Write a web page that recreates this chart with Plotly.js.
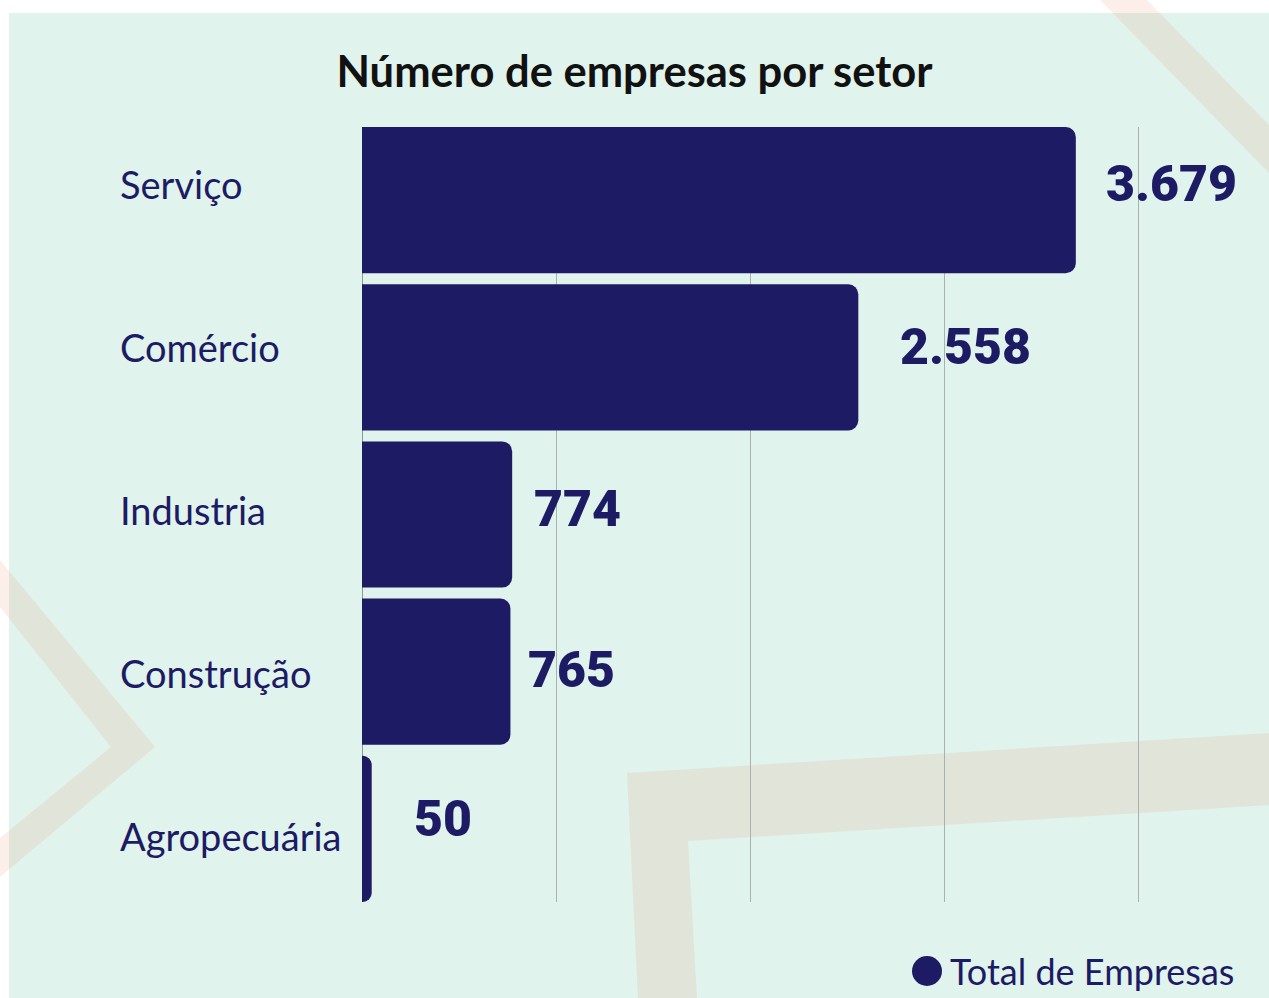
<!DOCTYPE html>
<html>
<head>
<meta charset="utf-8">
<script src="https://cdn.plot.ly/plotly-3.0.1.min.js"></script>
<style>html,body{margin:0;padding:0;background:#ffffff;}#chart{width:1269px;height:998px;}</style>
</head>
<body>
<div id="chart"></div>
<script>
const categories = ["Serviço", "Comércio", "Industria", "Construção", "Agropecuária"];
const values = [3679, 2558, 774, 765, 50];
const titleText = "Número de empresas por setor";
const legendText = "Total de Empresas";

const NAVY = "#1c1b64";
const MINT = "#e0f3ed";
const W = 1269, H = 998;
const M = {l: 362, r: 30, t: 127, b: 96};
const PW = W - M.l - M.r, PH = H - M.t - M.b;
const px = x => (x - M.l) / PW;          // pixel -> paper x
const py = y => (H - M.b - y) / PH;      // pixel -> paper y
const GAP = 0.07;

function fmt(v) {
  return String(v).replace(/\B(?=(\d{3})+(?!\d))/g, ".");
}
function pathFrom(points) {
  return points.map((p, i) => (i ? "L" : "M") + px(p[0]).toFixed(5) + "," + py(p[1]).toFixed(5)).join(" ") + " Z";
}

const deco = "rgba(235,135,85,0.13)";

const shapes = [
  {type: "rect", xref: "paper", yref: "paper", x0: px(0), x1: px(W), y0: py(13), y1: py(0), fillcolor: "#ffffff", line: {width: 0}, layer: "below"},
  {type: "rect", xref: "paper", yref: "paper", x0: px(0), x1: px(9), y0: py(H), y1: py(0), fillcolor: "#ffffff", line: {width: 0}, layer: "below"},
  {type: "path", xref: "paper", yref: "paper", path: pathFrom([[1100,0],[1147,0],[1269,125],[1269,173]]), fillcolor: deco, line: {width: 0}, layer: "below"},
  {type: "path", xref: "paper", yref: "paper", path: pathFrom([[0,560],[155,747],[0,877],[0,838],[111,747],[0,607]]), fillcolor: deco, line: {width: 0}, layer: "below"},
  {type: "path", xref: "paper", yref: "paper", path: pathFrom([[627,773],[1269,733],[1269,805],[688,841],[697,998],[638,998]]), fillcolor: deco, line: {width: 0}, layer: "below"},
  {type: "circle", xref: "paper", yref: "paper", xsizemode: "pixel", ysizemode: "pixel",
   xanchor: px(927), yanchor: py(971), x0: -15, x1: 15, y0: -15, y1: 15,
   fillcolor: NAVY, line: {width: 0}}
];

// small hand-placed nudges of the value labels (pixels), as in the original design
const valueNudgeX = [28, 40, 20, 16, 40];
const valueNudgeY = [16, 10, 6, 2, 10];

const annotations = [];
categories.forEach((c, i) => {
  const shift = 16 - i * 5.8;
  annotations.push({
    xref: "paper", yref: "y", x: px(118), y: c, xanchor: "left", yanchor: "middle", yshift: shift,
    text: c, showarrow: false, font: {family: "Lato, 'Open Sans', sans-serif", size: 38, color: NAVY}
  });
  annotations.push({
    xref: "x", yref: "y", x: values[i], y: c, xanchor: "left", yanchor: "middle",
    xshift: valueNudgeX[i], yshift: valueNudgeY[i],
    text: fmt(values[i]), showarrow: false,
    font: {family: "Roboto, 'DejaVu Sans', sans-serif", size: 50, weight: 900, color: NAVY}
  });
});
annotations.push({
  xref: "paper", yref: "paper", x: px(948), y: py(971), xanchor: "left", yanchor: "middle",
  text: legendText, showarrow: false, font: {family: "Lato, 'Open Sans', sans-serif", size: 36, color: NAVY}
});

const data = [{
  type: "bar", orientation: "h",
  x: values, y: categories,
  marker: {color: NAVY, cornerradius: 10},
  hoverinfo: "x+y", showlegend: false
}];

const layout = {
  width: W, height: H,
  margin: M,
  paper_bgcolor: MINT, plot_bgcolor: "rgba(0,0,0,0)",
  title: {text: titleText, x: 0.5, xref: "container", xanchor: "center", y: 1 - 72 / H, yanchor: "middle",
          font: {family: "Lato, 'Open Sans', sans-serif", size: 43.5, weight: 700, color: "#111111"}},
  bargap: GAP,
  xaxis: {range: [0, 4520], dtick: 1000, tick0: 0, showgrid: true, gridcolor: "#a9b2ad", gridwidth: 1,
          zeroline: true, zerolinecolor: "#8f9894", zerolinewidth: 1, showticklabels: false, ticks: "",
          layer: "above traces"},
  yaxis: {range: [categories.length - 0.5 - GAP / 2, -0.5 + GAP / 2], showticklabels: false, ticks: "", showgrid: false, zeroline: false},
  shapes: shapes,
  annotations: annotations,
  showlegend: false
};

Plotly.newPlot("chart", data, layout, {displayModeBar: false, staticPlot: true});
</script>
</body>
</html>
